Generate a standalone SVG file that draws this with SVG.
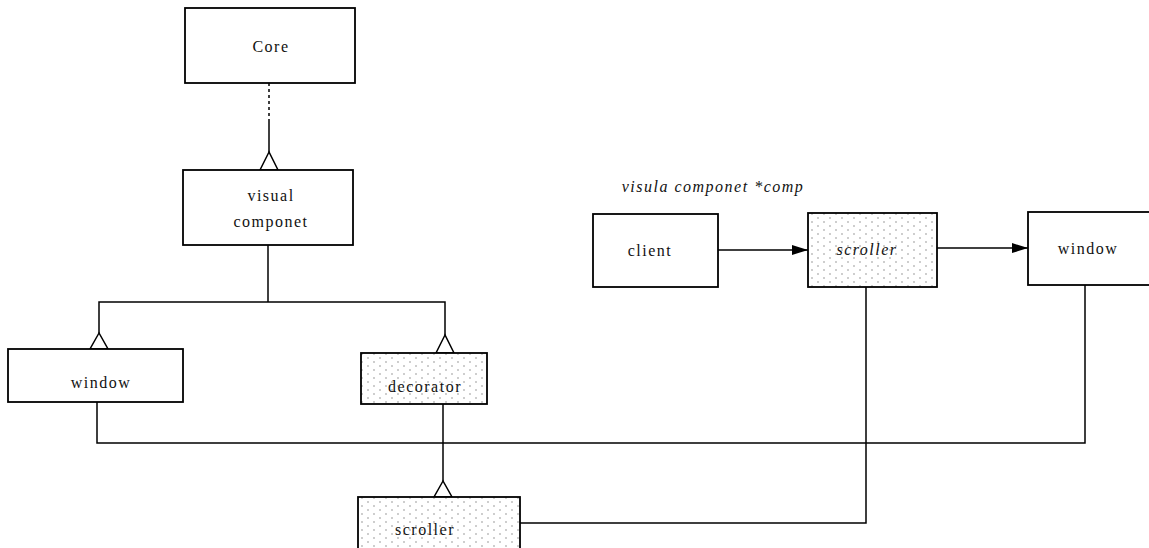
<svg xmlns="http://www.w3.org/2000/svg" width="1149" height="548" viewBox="0 0 1149 548">
<style>
.box{fill:#fff;stroke:#000;stroke-width:1.8}
.dot{fill:url(#dots);stroke:#000;stroke-width:1.8}
.t{font-family:"Liberation Serif",serif;font-size:16px;letter-spacing:1.5px;fill:#111;text-anchor:middle}
.i{font-style:italic}
.ln{fill:none;stroke:#000;stroke-width:1.5}
.tri{fill:#fff;stroke:#000;stroke-width:1.5;stroke-linejoin:miter}
</style>
<defs>
<pattern id="dots" width="12" height="8" patternUnits="userSpaceOnUse">
<rect width="12" height="8" fill="#fff"/>
<circle cx="2" cy="2" r="0.7" fill="#777"/>
<circle cx="8" cy="6" r="0.7" fill="#777"/>
</pattern>
<marker id="arr" markerWidth="16" markerHeight="10" refX="16" refY="5" orient="auto" markerUnits="userSpaceOnUse">
<path d="M0,0 L16,5 L0,10 Z" fill="#000"/>
</marker>
</defs>
<g id="connectors">
<line class="ln" x1="269" y1="83" x2="269" y2="120" stroke-dasharray="3,3"/>
<line class="ln" x1="269" y1="120" x2="269" y2="152"/>
<polygon class="tri" points="269,152 260,170 278,170"/>
<polyline class="ln" points="268,245 268,302"/>
<polyline class="ln" points="99,333 99,302 445,302 445,335"/>
<polygon class="tri" points="99,333 90,349 108,349"/>
<polygon class="tri" points="445,335 436,353 454,353"/>
<polyline class="ln" points="97,402 97,443 1085,443 1085,285"/>
<line class="ln" x1="443" y1="404" x2="443" y2="481"/>
<polygon class="tri" points="443,481 434,497 452,497"/>
<polyline class="ln" points="520,523 866,523 866,287"/>
<line class="ln" x1="718" y1="250" x2="808" y2="250" marker-end="url(#arr)"/>
<line class="ln" x1="937" y1="248" x2="1028" y2="248" marker-end="url(#arr)"/>
</g>
<g id="core"><rect class="box" x="185" y="8" width="170" height="75"/><text class="t" x="271" y="52">Core</text></g>
<g id="visual"><rect class="box" x="183" y="170" width="170" height="75"/><text class="t" x="271" y="201">visual</text><text class="t" x="271" y="227">componet</text></g>
<g id="window-left"><rect class="box" x="8" y="349" width="175" height="53"/><text class="t" x="101" y="388">window</text></g>
<g id="decorator"><rect class="dot" x="361" y="353" width="126" height="51"/><text class="t" x="425" y="392">decorator</text></g>
<g id="scroller-bottom"><rect class="dot" x="358" y="497" width="162" height="56"/><text class="t" x="425" y="535">scroller</text></g>
<g id="caption"><text class="t i" x="713" y="192">visula componet *comp</text></g>
<g id="client"><rect class="box" x="593" y="214" width="125" height="73"/><text class="t" x="650" y="256">client</text></g>
<g id="scroller-right"><rect class="dot" x="808" y="213" width="129" height="74"/><text class="t i" x="867" y="255">scroller</text></g>
<g id="window-right"><rect class="box" x="1028" y="212" width="130" height="73"/><text class="t" x="1088" y="254">window</text></g>
</svg>
